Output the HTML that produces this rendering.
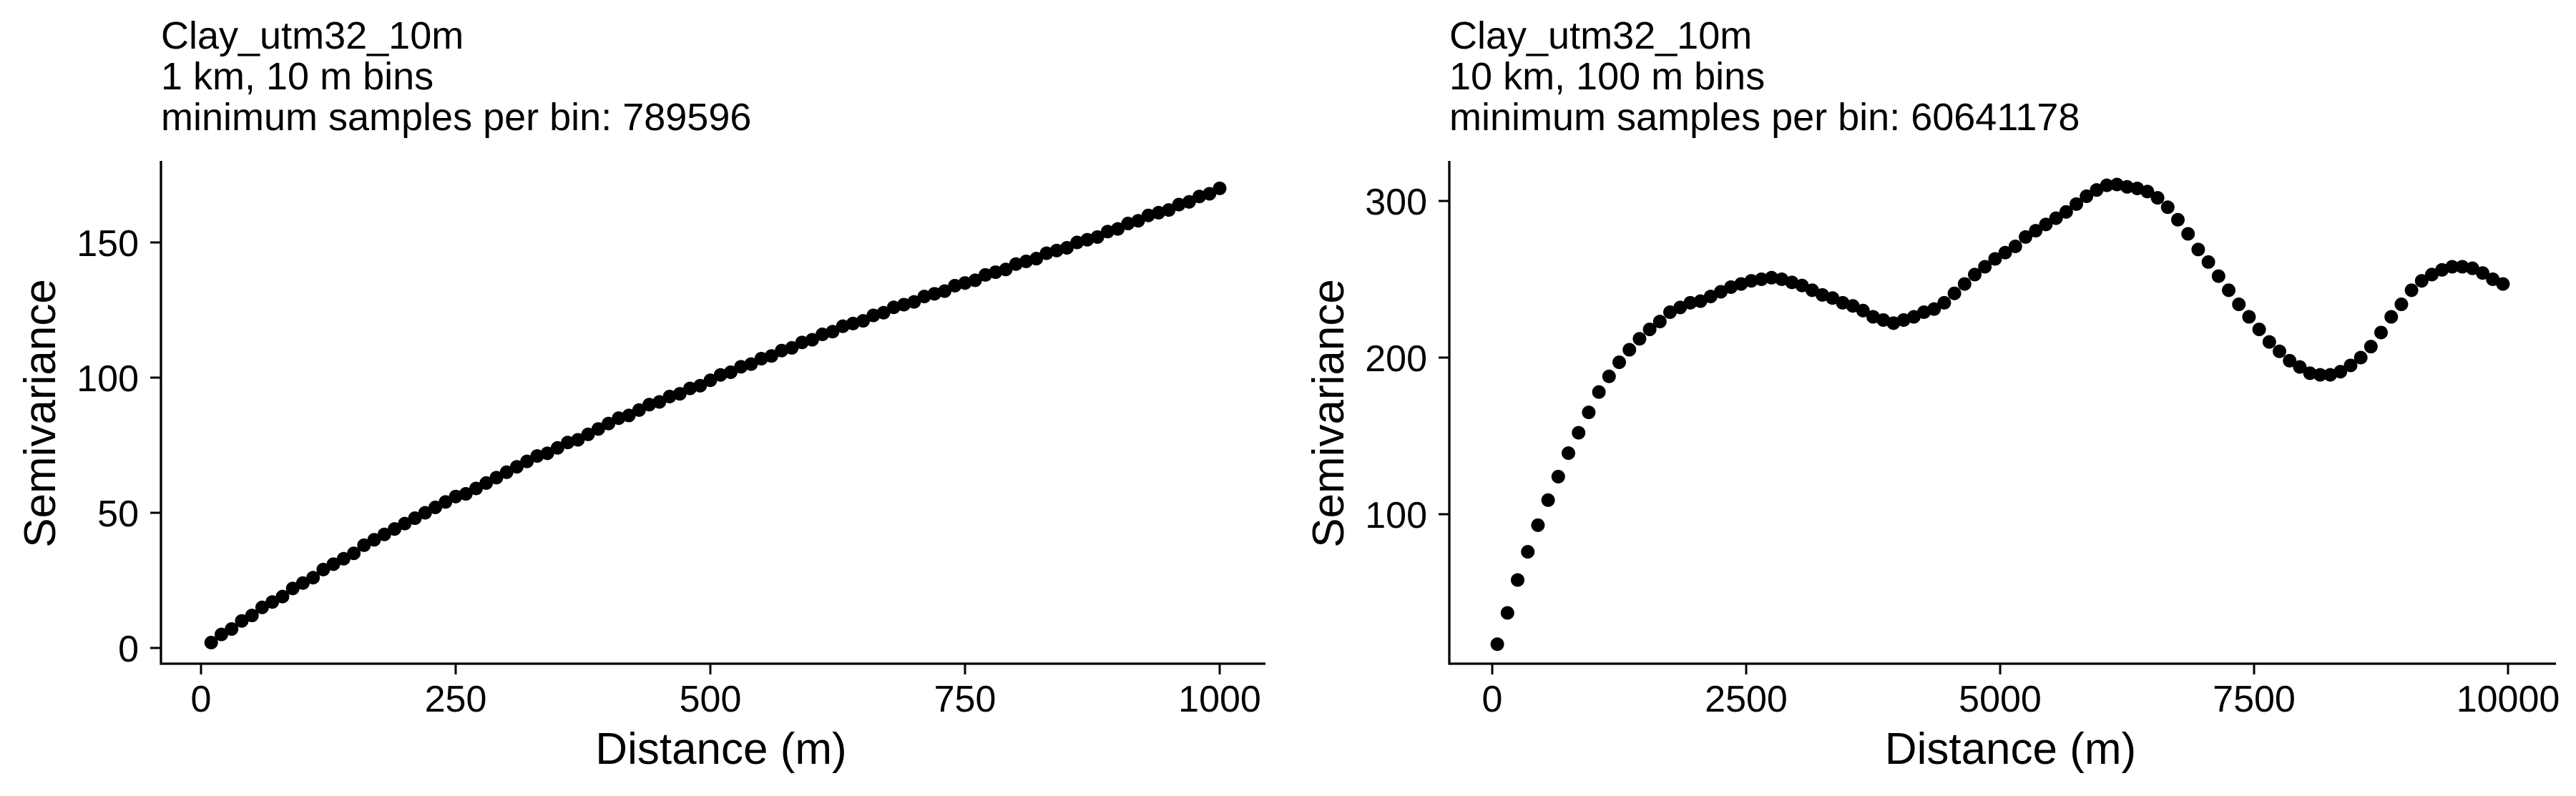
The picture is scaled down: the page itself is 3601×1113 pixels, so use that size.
<!DOCTYPE html>
<html><head><meta charset="utf-8"><style>
html,body{margin:0;padding:0;background:#fff;}
svg{display:block;font-family:"Liberation Sans",Arial,sans-serif;}
</style></head><body>
<svg id="c" width="3601" height="1113" xmlns="http://www.w3.org/2000/svg">
<rect width="3601" height="1113" fill="#fff"/>
</svg>
<script>
const leftDist=[10,20,30,40,50,60,70,80,90,100,110,120,130,140,150,160,170,180,190,200,210,220,230,240,250,260,270,280,290,300,310,320,330,340,350,360,370,380,390,400,410,420,430,440,450,460,470,480,490,500,510,520,530,540,550,560,570,580,590,600,610,620,630,640,650,660,670,680,690,700,710,720,730,740,750,760,770,780,790,800,810,820,830,840,850,860,870,880,890,900,910,920,930,940,950,960,970,980,990,1000];
const leftGamma=[2,5,7,10,12,15,17,19,22,24,26,29,31,33,35,38,40,42,44,46,48,50,52,54,56,57,59,61,63,65,67,69,71,72,74,76,77,79,81,83,85,86,88,90,91,93,94,96,97,99,101,102,104,105,107,108,110,111,113,114,116,117,119,120,121,123,124,126,127,128,130,131,132,134,135,136,138,139,140,142,143,144,146,147,148,150,151,152,154,155,157,158,160,161,162,164,165,167,168,170];
const rightGamma=[17,37,58,76,93,109,124,139,152,165,178,188,197,205,212,218,223,229,232,235,236,239,242,245,247,249,250,251,250,248,246,243,240,238,235,233,230,226,224,222,224,226,229,231,235,241,247,253,258,263,267,271,277,281,285,289,293,298,303,307,310,310.5,309,308,306,302,296,288,279,269,261,252,243,234,226,218,210,204,198,194,190,189,189,191,195,200,207,216,226,234,243,249,253,256,258,258,257,254,250,247];
const rightDist=rightGamma.map((_,i)=>50+100*i);
const leftXTicks=[0,250,500,750,1000];
const leftYTicks=[0,50,100,150];
const rightXTicks=[0,2500,5000,7500,10000];
const rightYTicks=[100,200,300];
const leftTitle=["Clay_utm32_10m","1 km, 10 m bins","minimum samples per bin: 789596"];
const rightTitle=["Clay_utm32_10m","10 km, 100 m bins","minimum samples per bin: 60641178"];

const svg=document.getElementById('c');
const NS='http://www.w3.org/2000/svg';
function mk(tag,attrs,parent){const e=document.createElementNS(NS,tag);for(const k in attrs)e.setAttribute(k,attrs[k]);(parent||svg).appendChild(e);return e;}

function panel(p){
  const g=mk('g',{});
  
  
  const sx=v=>p.x0px+(v-p.xmin)*(p.x1px-p.x0px)/(p.xmax-p.xmin);
  const sy=v=>p.y0px+(v-p.ymin)*(p.y1px-p.y0px)/(p.ymax-p.ymin);
  p.title.forEach((t,i)=>{
    const e=mk('text',{x:p.axX,y:68+57*i,'font-size':54,fill:'#000'},g);
    e.textContent=t;
    
    
  });
  const xa=mk('line',{x1:p.axX,y1:928,x2:p.axRight,y2:928,stroke:'#000','stroke-width':3.3},g);
  
  
  const ya=mk('line',{x1:p.axX,y1:225,x2:p.axX,y2:929.6,stroke:'#000','stroke-width':3.3},g);
  
  
  p.xt.forEach(v=>{
    const x=sx(v);
    const tk=mk('line',{x1:x,y1:928,x2:x,y2:943,stroke:'#000','stroke-width':3},g);
    
    
    const t=mk('text',{x:x,y:995,'font-size':52,'text-anchor':'middle',fill:'#000'},g);
    t.textContent=v;
    
    
  });
  p.yt.forEach(v=>{
    const y=sy(v);
    const tk=mk('line',{x1:p.axX-15,y1:y,x2:p.axX,y2:y,stroke:'#000','stroke-width':3},g);
    
    
    const t=mk('text',{x:p.axX-31,y:y+19,'font-size':52,'text-anchor':'end',fill:'#000'},g);
    t.textContent=v;
    
    
  });
  const xt=mk('text',{x:(p.axX+p.axRight)/2+11,y:1068,'font-size':62,'text-anchor':'middle',fill:'#000'},g);
  xt.textContent='Distance (m)';
  
  
  const yt=mk('text',{x:0,y:0,'font-size':62,'text-anchor':'middle',fill:'#000',transform:`translate(${p.axX-148},578) rotate(-90)`},g);
  yt.textContent='Semivariance';
  
  
  p.xs.forEach((d,i)=>{
    const c=mk('circle',{cx:sx(d),cy:sy(p.ys[i]),r:9.5,fill:'#000'},g);
    
    
  });
}
panel({name:'left-panel',title:leftTitle,axX:225,axRight:1769,
  xmin:0,xmax:1000,x0px:281,x1px:1705,ymin:0,ymax:150,y0px:906,y1px:339,
  xt:leftXTicks,yt:leftYTicks,xs:leftDist,ys:leftGamma});
panel({name:'right-panel',title:rightTitle,axX:2026,axRight:3573,
  xmin:0,xmax:10000,x0px:2086,x1px:3506,ymin:100,ymax:300,y0px:719,y1px:281,
  xt:rightXTicks,yt:rightYTicks,xs:rightDist,ys:rightGamma});
</script>
</body></html>
